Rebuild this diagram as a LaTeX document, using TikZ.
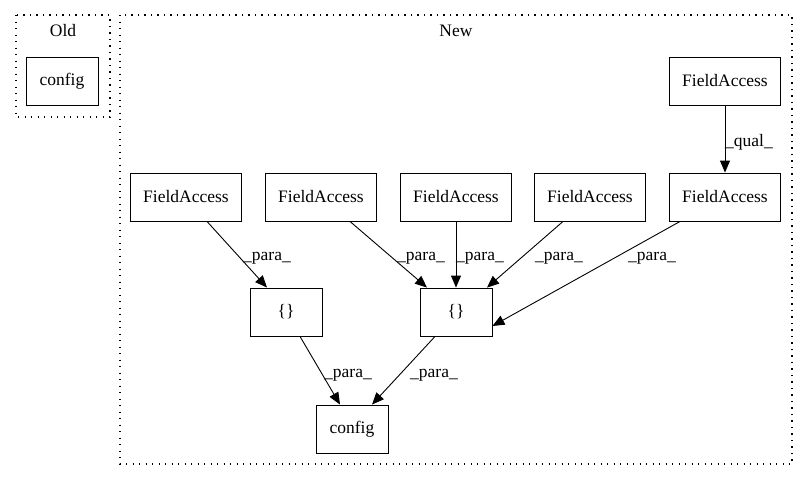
\documentclass[tikz,border=0pt]{standalone}
\usepackage{fontspec}
\setmainfont{Liberation Serif}
\usetikzlibrary{arrows.meta}
\begin{document}
\begin{tikzpicture}[x=1pt,y=-1pt,
  box/.style={draw,line width=0.9pt,minimum width=72pt,minimum height=48pt,inner sep=0pt,font=\fontsize{17.5}{20}\selectfont},
  fabox/.style={box,minimum width=111pt},
  cluster/.style={draw,line width=1.1pt,dash pattern=on 1.3pt off 5.2pt},
  edge/.style={draw,line width=0.9pt,-{Triangle[length=12pt,width=10pt]}},
  lbl/.style={font=\fontsize{17.5}{20}\selectfont,inner sep=1pt},
  ttl/.style={font=\fontsize{17.5}{20}\selectfont,inner sep=0pt}]
\useasboundingbox (0,0) rectangle (808,480);
% clusters
\draw[cluster] (16,15) rectangle (110,117);
\node[ttl] (oldt) at (63,31) {Old};
\draw[cluster] (120,15) rectangle (792,464);
\node[ttl] (newt) at (456,31) {New};
% nodes
\node[box] (oldcfg) at (62,81) {config};
\node[fabox] (fatop) at (725,81) {FieldAccess};
\node[fabox] (fa1) at (186,197) {FieldAccess};
\node[fabox] (fa2) at (321,197) {FieldAccess};
\node[fabox] (fa3) at (456,197) {FieldAccess};
\node[fabox] (fa4) at (590,197) {FieldAccess};
\node[fabox] (fa5) at (725,197) {FieldAccess};
\node[box] (brl) at (286,312) {\{\}};
\node[box] (brr) at (456,312) {\{\}};
\node[box] (cfg) at (352,429) {config};
% edges
\draw[edge] (fatop) -- (fa5);
\node[lbl] (lq) at (749,142) {\_qual\_};
\draw[edge] ([xshift=21pt]fa1.south) -- ([xshift=-19pt]brl.north);
\node[lbl] (l1) at (267,258) {\_para\_};
\draw[edge] ([xshift=29pt]fa2.south) -- ([xshift=-29pt]brr.north);
\node[lbl] (l2) at (421,258) {\_para\_};
\draw[edge] (fa3) -- (brr);
\node[lbl] (l3) at (480,258) {\_para\_};
\draw[edge] ([xshift=-27pt]fa4.south) -- ([xshift=31pt]brr.north);
\node[lbl] (l4) at (559,258) {\_para\_};
\draw[edge] ([xshift=-45pt]fa5.south) -- ([yshift=-14pt]brr.east);
\node[lbl] (l5) at (652,258) {\_para\_};
\draw[edge] ([xshift=14pt]brl.south) -- ([xshift=-12pt]cfg.north);
\node[lbl] (l6) at (348,375) {\_para\_};
\draw[edge] ([xshift=-21pt]brr.south) -- ([xshift=20pt]cfg.north);
\node[lbl] (l7) at (434,375) {\_para\_};
\end{tikzpicture}
\end{document}
